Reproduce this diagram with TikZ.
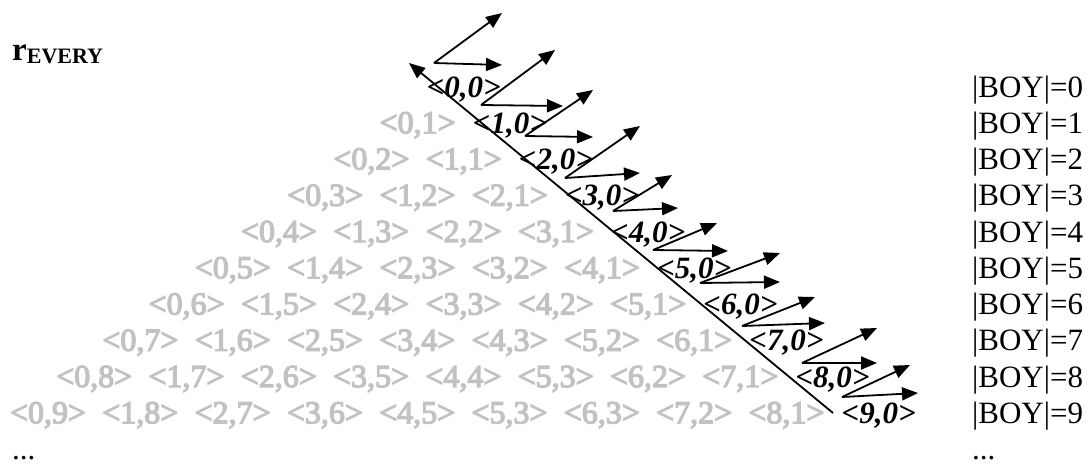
\documentclass[tikz,border=0pt]{standalone}
\usepackage{fontspec}
\setmainfont{Liberation Serif}
\newfontfamily\rimfont[FakeBold=4]{Liberation Serif}
\usepackage{xcolor}
\usetikzlibrary{arrows.meta}
\definecolor{lblgray}{gray}{0.76}

\begin{document}
\begin{tikzpicture}[x=1pt,y=-1pt,>={Triangle[length=16pt,width=13pt]},
  lbl/.style={inner sep=0pt,anchor=base,font=\fontsize{31}{36}\selectfont},
  pale/.style={lbl,text=lblgray,font=\fontsize{32}{36}\rimfont},
  zero/.style={lbl,font=\fontsize{31}{36}\selectfont\bfseries\itshape},
  arr/.style={line width=1.8pt,->}]
  \useasboundingbox (0,0) rectangle (1092,466);
  \node[lbl,anchor=base west] (title) at (12,60) {{\fontsize{33}{36}\selectfont\bfseries r}\raisebox{-3pt}{\fontsize{22}{22}\selectfont\bfseries EVERY}};
  % pale pairs, rows 1 to 8
  \foreach \r in {1,...,8} {
    \pgfmathtruncatemacro\last{\r-1}
    \foreach \c in {0,...,\last} {
      \pgfmathtruncatemacro\s{\r-\c}
      \node[pale] (p\r-\c) at ({48+(9-\r)*46.2+92.3*\c},{97+36.25*\r}) {<\c,\s>};
    }
  }
  % last row as printed
  \foreach \c/\s in {0/9,1/8,2/7,3/6,4/5,5/3,6/3,7/2,8/1}
    \node[pale] (p9-\c) at ({48+92.3*\c},423.25) {<\c,\s>};
  % bold pairs and sizes
  \foreach \k in {0,...,9} {
    \node[zero] (z\k) at ({463.8+46.1*\k},{97+36.25*\k}) {<\k,0>};
    \node[lbl,anchor=base west] (boy\k) at (972,{97+36.25*\k}) {|BOY|=\k};
  }
  \node[lbl,anchor=base west] (dotsl) at (12,459) {...};
  \node[lbl,anchor=base west] (dotsr) at (972,459) {...};
  % diagonal
  \coordinate (top) at (409,63);
  \coordinate (bot) at (833,413);
  \draw[arr] (bot) -- (top);
  % arrow pairs
  \foreach \k/\vx/\vy/\hx/\hy/\dx/\dy in {0/434/63/502/65/502/13,
      1/481/105/563/106/555/50, 2/525/136/593/137/593/90,
      3/565/178/640/173/640/126, 4/613/211/678/208/672/175,
      5/653/250/728/251/717/223, 6/700/283/780/282/780/253,
      7/742/326/825/323/815/297, 8/802/363/877/363/877/328,
      9/842/397/918/393/910/365} {
    \coordinate (v\k) at (\vx,\vy);
    \coordinate (h\k) at (\hx,\hy);
    \coordinate (d\k) at (\dx,\dy);
    \draw[arr] (v\k) -- (h\k);
    \draw[arr] (v\k) -- (d\k);
  }
\end{tikzpicture}
\end{document}
